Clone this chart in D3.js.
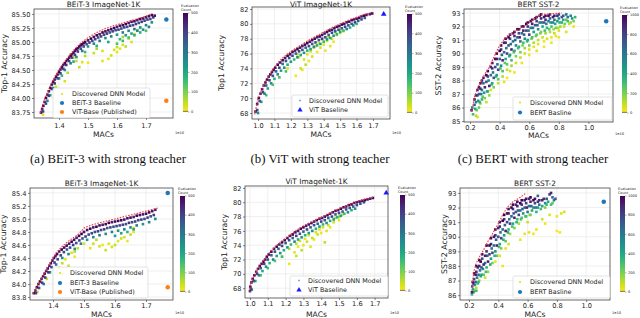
<!DOCTYPE html>
<html><head><meta charset="utf-8">
<script src="https://cdn.jsdelivr.net/npm/d3@7"></script>
<style>body{margin:0;background:#fff}svg{display:block}</style>
</head><body>
<script>
// ---------------- DATA ----------------
const captions = ["(a) BEiT-3 with strong teacher","(b) ViT with strong teacher","(c) BERT with strong teacher"];
const titles = ["BEiT-3 ImageNet-1K","ViT ImageNet-1K","BERT SST-2"];
const yLabels = ["Top-1 Accuracy","Top1 Accuracy","SST-2 Accuracy"];
const legendA = ["Discovered DNN Model","BEiT-3 Baseline","ViT-Base (Published)"];
const legendB = ["Discovered DNN Model","ViT Baseline"];
const legendC = ["Discovered DNN Model","BERT Basline"];
const cbTicks500 = [0,100,200,300,400,500];
const cbTicks1000 = [0,200,400,600,800,1000];
const xTicksBeit = [1.4,1.5,1.6,1.7];
const xTicksVit = [1.0,1.1,1.2,1.3,1.4,1.5,1.6,1.7];
const xTicksBert = [0.2,0.4,0.6,0.8,1.0];
const yTicksBeitTop = [83.75,84.0,84.25,84.5,84.75,85.0,85.25,85.5];
const yTicksBeitBot = [83.8,84.0,84.2,84.4,84.6,84.8,85.0,85.2,85.4];
const yTicksVit = [68,70,72,74,76,78,80,82];
const yTicksBertTop = [85,86,87,88,89,90,91,92,93];
const yTicksBertBot = [86,87,88,89,90,91,92,93];

// baselines [MACs(1e10), accuracy]
const beitBaseTop = [1.77,85.4], vitPubTop = [1.77,83.95];
const beitBaseBot = [1.77,85.4], vitPubBot = [1.77,83.95];
const vitBaseTop = [1.765,81.3], vitBaseBot = [1.765,81.3];
const bertBaseTop = [1.12,92.4], bertBaseBot = [1.12,92.4];

// Pareto frontiers
const beitFrontTop = [[1.335,83.72],[1.35,83.98],[1.37,84.22],[1.39,84.42],[1.41,84.58],[1.43,84.72],[1.45,84.85],[1.47,84.96],[1.5,85.08],[1.53,85.17],[1.56,85.24],[1.6,85.31],[1.64,85.37],[1.68,85.43],[1.72,85.5]];
const vitFrontTop = [[0.98,67.8],[0.99,68.9],[1.0,69.9],[1.02,71.0],[1.04,72.0],[1.06,72.8],[1.08,73.5],[1.1,74.2],[1.13,75.0],[1.16,75.6],[1.2,76.3],[1.25,77.0],[1.3,77.7],[1.35,78.3],[1.4,78.9],[1.45,79.5],[1.5,80.0],[1.55,80.5],[1.6,80.9],[1.65,81.3],[1.7,81.55]];
const bertFrontTop = [[0.21,85.7],[0.22,86.2],[0.23,86.8],[0.25,87.4],[0.27,87.9],[0.3,88.5],[0.33,89.0],[0.36,89.7],[0.39,90.4],[0.42,90.9],[0.45,91.3],[0.5,91.6],[0.55,91.9],[0.6,92.3],[0.65,92.7],[0.68,92.9],[0.75,92.95],[0.82,93.0]];
const beitFrontBot = [[1.335,83.85],[1.35,83.98],[1.37,84.15],[1.39,84.32],[1.41,84.48],[1.43,84.58],[1.45,84.66],[1.48,84.76],[1.5,84.86],[1.52,84.9],[1.55,84.94],[1.6,85.0],[1.65,85.06],[1.7,85.12],[1.74,85.17]];
const vitFrontBot = [[1.0,67.5],[1.0,68.3],[1.01,69.0],[1.03,70.0],[1.05,71.0],[1.08,72.0],[1.11,73.0],[1.15,74.0],[1.2,75.0],[1.25,75.9],[1.3,76.7],[1.35,77.3],[1.4,77.9],[1.45,78.5],[1.5,79.1],[1.55,79.6],[1.6,80.1],[1.65,80.5],[1.69,80.7]];
const bertFrontBot = [[0.22,86.3],[0.225,87.0],[0.235,87.7],[0.25,88.2],[0.27,88.6],[0.3,89.1],[0.33,89.7],[0.36,90.2],[0.4,90.9],[0.43,91.5],[0.46,92.0],[0.5,92.4],[0.55,92.7],[0.59,93.0]];

// discovered models [MACs, accuracy, evaluation count]
const beitPtsTop = [
[1.338,83.74,480],[1.342,83.8,460],[1.346,83.86,490],[1.35,83.93,470],[1.355,84.0,500],[1.36,84.06,450],[1.365,84.12,480],[1.37,84.18,490],[1.375,84.24,470],[1.38,84.29,500],[1.385,84.33,460],[1.39,84.38,490],[1.395,84.42,480],[1.40,84.47,500],[1.405,84.51,470],[1.41,84.55,490],[1.415,84.59,460],[1.42,84.62,500],[1.425,84.66,480],[1.43,84.69,490],[1.435,84.72,470],[1.44,84.75,500],[1.445,84.78,460],[1.45,84.81,490],[1.455,84.84,480],[1.46,84.87,500],[1.465,84.89,470],[1.47,84.92,490],[1.475,84.94,460],[1.48,84.96,500],[1.485,84.98,480],[1.49,85.0,490],[1.50,85.03,470],[1.51,85.06,500],[1.52,85.09,480],[1.53,85.12,490],[1.54,85.14,460],[1.55,85.17,500],[1.56,85.19,480],[1.57,85.21,470],[1.58,85.23,490],[1.59,85.25,500],[1.60,85.27,460],[1.61,85.29,480],[1.62,85.3,490],[1.63,85.32,500],[1.64,85.34,470],[1.65,85.36,480],[1.66,85.37,490],[1.67,85.39,460],[1.68,85.41,500],[1.69,85.42,480],[1.70,85.44,470],[1.71,85.46,490],[1.72,85.48,500],[1.73,85.47,480],
[1.345,83.76,400],[1.355,83.9,380],[1.365,84.04,410],[1.375,84.16,390],[1.385,84.26,420],[1.395,84.35,370],[1.405,84.44,400],[1.415,84.52,380],[1.425,84.59,410],[1.435,84.66,390],[1.445,84.72,360],[1.455,84.77,400],[1.465,84.83,420],[1.475,84.88,380],[1.485,84.92,400],[1.495,84.96,370],[1.505,84.99,410],[1.515,85.02,390],[1.525,85.05,400],[1.535,85.08,380],[1.545,85.1,410],[1.555,85.13,390],[1.565,85.15,420],[1.575,85.17,370],[1.585,85.19,400],[1.595,85.21,380],[1.605,85.22,410],[1.615,85.24,390],[1.625,85.26,400],[1.635,85.27,370],[1.645,85.29,420],[1.655,85.3,390],[1.665,85.32,400],[1.675,85.34,380],[1.685,85.36,410],[1.695,85.38,390],[1.705,85.4,400],[1.715,85.41,370],[1.725,85.44,420],
[1.36,83.95,280],[1.38,84.18,260],[1.40,84.35,300],[1.42,84.5,240],[1.44,84.62,280],[1.46,84.73,250],[1.48,84.84,290],[1.50,84.92,230],[1.52,84.97,270],[1.54,85.02,300],[1.56,85.07,250],[1.58,85.1,280],[1.60,85.13,240],[1.62,85.17,290],[1.64,85.2,260],[1.66,85.23,300],[1.68,85.26,240],[1.70,85.3,280],[1.72,85.35,260],[1.63,85.12,230],[1.65,85.15,210],[1.67,85.2,270],[1.69,85.22,250],[1.71,85.27,290],
[1.37,84.05,180],[1.41,84.4,170],[1.45,84.65,190],[1.49,84.82,160],[1.53,84.93,180],[1.57,85.0,200],[1.61,85.05,170],[1.64,85.08,150],[1.66,85.12,180],[1.68,85.17,190],[1.62,85.02,160],[1.70,85.2,140],[1.6,84.97,150],
[1.345,83.7,20],[1.39,84.2,40],[1.42,84.3,30],[1.44,84.78,50],[1.45,84.72,20],[1.46,84.66,40],[1.48,84.64,30],[1.5,84.63,10],[1.47,84.55,50],[1.43,84.45,60],[1.52,84.8,40],[1.55,84.84,30],[1.55,84.66,20],[1.57,84.7,10],[1.58,84.76,40],[1.59,84.86,30],[1.6,84.91,50],[1.61,84.88,20],[1.62,84.95,30],[1.63,84.92,60],[1.64,85.06,40],[1.62,85.09,70],[1.66,85.14,50],[1.67,85.21,60],[1.68,85.25,40],[1.6,84.82,20],[1.65,85.0,30],[1.53,84.88,70],[1.49,84.75,60]];

const vitPtsTop = [
[0.985,68.2,480],[0.995,69.2,460],[1.005,70.0,490],[1.015,70.6,470],[1.025,71.2,500],[1.035,71.7,450],[1.045,72.1,480],[1.055,72.5,490],[1.065,72.9,470],[1.075,73.2,500],[1.085,73.5,460],[1.095,73.8,490],[1.105,74.1,480],[1.12,74.5,500],[1.135,74.8,470],[1.15,75.1,490],[1.165,75.4,460],[1.18,75.7,500],[1.195,75.9,480],[1.21,76.2,490],[1.225,76.4,470],[1.24,76.6,500],[1.255,76.8,480],[1.27,77.0,460],[1.285,77.2,490],[1.3,77.4,500],[1.315,77.6,470],[1.33,77.8,480],[1.345,78.0,490],[1.36,78.2,460],[1.375,78.3,500],[1.39,78.5,480],[1.405,78.7,470],[1.42,78.9,490],[1.435,79.1,500],[1.45,79.2,460],[1.465,79.4,480],[1.48,79.6,490],[1.495,79.7,470],[1.51,79.9,500],[1.525,80.0,480],[1.54,80.2,460],[1.555,80.3,490],[1.57,80.5,500],[1.585,80.6,470],[1.60,80.7,480],[1.615,80.8,490],[1.63,81.0,460],[1.645,81.1,500],[1.66,81.2,480],[1.68,81.3,470],[1.695,81.4,490],
[0.995,68.4,380],[1.01,69.6,360],[1.03,70.8,400],[1.05,71.7,340],[1.07,72.4,390],[1.09,73.0,370],[1.11,73.6,350],[1.13,74.1,400],[1.15,74.6,330],[1.17,75.0,380],[1.19,75.4,360],[1.21,75.7,390],[1.23,76.0,340],[1.25,76.3,400],[1.27,76.5,370],[1.29,76.8,350],[1.31,77.0,390],[1.33,77.3,360],[1.35,77.5,380],[1.37,77.8,340],[1.39,78.0,400],[1.41,78.2,370],[1.43,78.5,350],[1.45,78.8,390],[1.47,79.0,360],[1.49,79.2,380],[1.51,79.4,340],[1.53,79.6,400],[1.55,79.8,370],[1.57,80.0,350],[1.59,80.2,390],[1.61,80.4,360],[1.63,80.6,380],[1.65,80.8,340],
[1.0,68.0,250],[1.02,69.5,220],[1.04,70.6,260],[1.06,71.3,200],[1.08,72.0,240],[1.1,72.6,180],[1.12,73.2,270],[1.14,73.7,210],[1.16,74.1,250],[1.18,74.5,190],[1.2,74.9,230],[1.22,75.2,170],[1.24,75.5,260],[1.26,75.8,200],[1.28,76.1,240],[1.3,76.4,180],[1.32,76.6,220],[1.34,76.9,260],[1.36,77.1,190],[1.38,77.3,230],[1.4,77.6,170],[1.42,77.9,250],[1.44,78.1,200],[1.46,78.4,240],[1.48,78.6,180],[1.5,78.9,220],[1.52,79.1,160],[1.54,79.3,260],[1.56,79.5,190],[1.58,79.8,230],[1.6,80.0,170],[1.05,70.4,150],[1.09,71.8,140],[1.13,72.8,160],[1.17,73.6,150],
[1.23,73.0,10],[1.18,74.0,30],[1.25,75.5,20],[1.26,74.0,40],[1.27,73.8,10],[1.28,75.2,30],[1.29,74.5,50],[1.3,75.9,20],[1.31,75.0,10],[1.32,76.3,40],[1.33,75.6,30],[1.34,76.8,20],[1.35,77.0,50],[1.36,76.2,10],[1.37,77.4,30],[1.38,76.8,40],[1.4,77.2,20],[1.41,76.4,10],[1.42,77.7,30],[1.43,78.2,50],[1.44,77.0,20],[1.45,78.0,40],[1.46,77.6,10],[1.48,78.5,30],[1.5,78.8,20],[1.5,79.2,60],[1.52,79.0,40],[1.47,78.9,70],[1.39,77.9,60],[1.24,75.9,50]];

const bertPtsTop = [
[0.21,85.8,900],[0.215,86.0,600],[0.22,85.5,300],
[0.23,86.6,950],[0.23,86.2,700],[0.235,85.9,400],[0.24,85.4,100],
[0.25,87.3,900],[0.25,86.9,800],[0.255,86.5,500],[0.26,86.0,250],[0.25,85.3,50],
[0.27,87.8,1000],[0.27,87.4,850],[0.275,87.0,600],[0.28,86.6,350],[0.27,86.3,150],
[0.29,88.2,950],[0.29,87.8,700],[0.3,87.5,900],[0.295,87.1,450],[0.3,86.7,200],[0.31,86.4,80],
[0.32,88.7,1000],[0.32,88.3,800],[0.325,88.0,550],[0.33,87.6,900],[0.32,87.2,300],[0.33,86.9,150],
[0.35,89.3,950],[0.35,88.9,850],[0.355,88.6,600],[0.36,88.2,750],[0.35,87.8,400],[0.36,87.5,200],[0.34,87.3,60],
[0.38,90.0,1000],[0.38,89.6,900],[0.385,89.2,650],[0.39,88.8,800],[0.38,88.4,450],[0.39,88.1,250],[0.39,87.8,100],
[0.41,90.6,950],[0.41,90.3,850],[0.415,89.9,700],[0.42,89.5,900],[0.41,89.1,500],[0.42,88.7,300],[0.42,88.3,120],[0.43,87.9,40],
[0.44,91.1,1000],[0.44,90.8,900],[0.445,90.4,600],[0.45,90.0,800],[0.44,89.6,400],[0.45,89.2,250],[0.45,88.8,100],
[0.47,91.4,950],[0.47,91.1,800],[0.475,90.7,650],[0.48,90.3,900],[0.47,89.9,450],[0.48,89.5,300],[0.48,89.1,150],[0.47,88.7,50],
[0.5,91.6,1000],[0.5,91.3,850],[0.505,91.0,700],[0.51,90.6,550],[0.5,90.2,400],[0.51,89.8,200],[0.51,89.3,80],
[0.53,91.8,950],[0.53,91.5,800],[0.535,91.2,900],[0.54,90.9,600],[0.53,90.5,350],[0.54,90.1,200],[0.54,89.7,100],
[0.56,92.0,1000],[0.56,91.7,900],[0.565,91.4,700],[0.57,91.1,500],[0.56,90.8,300],[0.57,90.4,150],[0.57,90.0,60],
[0.59,92.3,950],[0.59,92.0,850],[0.595,91.7,600],[0.6,91.4,800],[0.59,91.0,400],[0.6,90.6,200],[0.6,90.3,50],
[0.62,92.5,1000],[0.62,92.2,900],[0.625,91.9,650],[0.63,91.6,450],[0.62,91.2,300],[0.63,90.8,120],[0.63,90.5,30],
[0.65,92.7,950],[0.65,92.4,800],[0.655,92.1,700],[0.66,91.8,500],[0.65,91.4,250],[0.66,91.0,100],[0.66,90.7,40],
[0.68,92.9,1000],[0.68,92.6,900],[0.685,92.3,600],[0.69,92.0,400],[0.68,91.6,200],[0.69,91.2,80],[0.7,90.9,20],
[0.71,92.8,950],[0.71,92.5,850],[0.715,92.2,550],[0.72,91.9,350],[0.71,91.5,150],[0.72,91.1,50],
[0.74,92.9,900],[0.74,92.6,700],[0.745,92.3,500],[0.75,92.0,300],[0.74,91.6,120],[0.75,91.2,40],
[0.77,92.8,950],[0.77,92.5,600],[0.775,92.2,400],[0.78,91.9,200],[0.77,91.5,90],[0.78,91.3,30],
[0.8,92.9,800],[0.8,92.6,500],[0.805,92.3,350],[0.81,92.0,150],[0.8,91.7,60],
[0.83,92.8,700],[0.83,92.5,400],[0.84,92.2,200],[0.835,92.0,80],
[0.86,92.7,600],[0.86,92.4,300],[0.87,92.2,100],
[0.89,92.6,500],[0.9,92.4,200],[0.91,92.7,350],
[0.24,86.9,850],[0.24,86.4,550],[0.245,85.8,200],[0.26,87.5,950],[0.26,87.0,700],[0.265,86.4,350],
[0.28,88.0,900],[0.28,87.3,600],[0.285,86.8,250],[0.31,88.4,1000],[0.31,87.9,750],[0.315,87.2,400],
[0.34,89.0,900],[0.34,88.4,650],[0.345,87.7,300],[0.37,89.6,950],[0.37,89.0,800],[0.375,88.3,350],
[0.40,90.2,1000],[0.40,89.6,700],[0.405,88.9,300],[0.43,90.8,900],[0.43,90.1,650],[0.435,89.3,250],
[0.46,91.2,1000],[0.46,90.6,750],[0.465,89.8,350],[0.49,91.5,950],[0.49,90.9,600],[0.495,90.1,250],
[0.52,91.8,1000],[0.52,91.2,700],[0.525,90.4,300],[0.55,92.0,900],[0.55,91.5,650],[0.555,90.6,200],
[0.58,92.2,1000],[0.58,91.7,750],[0.585,90.9,300],[0.61,92.4,950],[0.61,91.9,600],[0.615,91.1,200],
[0.64,92.6,1000],[0.64,92.1,700],[0.645,91.3,250],[0.67,92.8,900],[0.67,92.3,650],[0.675,91.5,200],
[0.70,92.7,950],[0.70,92.3,700],[0.705,91.7,300],[0.73,92.8,1000],[0.73,92.4,600],[0.735,91.8,250],
[0.76,92.7,900],[0.76,92.3,550],[0.765,91.8,150],[0.79,92.8,850],[0.79,92.4,450],[0.795,91.9,120],
[0.82,92.7,750],[0.82,92.3,350],[0.85,92.9,650],[0.85,92.5,250],[0.88,92.8,550],[0.88,92.3,150],
[0.55,89.3,30],[0.6,89.9,20],[0.65,90.2,40],[0.7,90.5,10],[0.75,90.8,30],[0.8,91.2,20],[0.85,91.6,50],[0.9,92.0,30],[0.5,88.6,20],[0.45,88.2,10]];

const beitPtsBot = [
[1.338,83.86,480],[1.343,83.9,460],[1.348,83.95,490],[1.353,84.0,470],[1.358,84.04,500],[1.363,84.08,450],[1.368,84.12,480],[1.373,84.16,490],[1.378,84.2,470],[1.383,84.24,500],[1.388,84.28,460],[1.393,84.32,490],[1.398,84.36,480],[1.403,84.4,500],[1.408,84.43,470],[1.413,84.46,490],[1.42,84.5,460],[1.428,84.53,500],[1.436,84.56,480],[1.444,84.59,490],[1.452,84.62,470],[1.46,84.65,500],[1.468,84.68,480],[1.476,84.71,460],[1.484,84.74,490],[1.492,84.77,500],[1.5,84.8,470],[1.51,84.83,480],[1.52,84.85,490],[1.53,84.87,460],[1.54,84.88,500],[1.55,84.9,480],[1.56,84.91,470],[1.57,84.92,490],[1.58,84.94,500],[1.59,84.95,460],[1.60,84.96,480],[1.61,84.97,490],[1.62,84.98,500],[1.63,84.99,470],[1.64,85.01,480],[1.65,85.02,490],[1.66,85.03,460],[1.67,85.05,500],[1.68,85.06,480],[1.69,85.07,470],[1.70,85.08,490],[1.71,85.1,500],[1.72,85.12,480],[1.73,85.14,460],
[1.345,83.86,400],[1.355,83.94,380],[1.365,84.02,410],[1.375,84.1,390],[1.385,84.18,420],[1.395,84.26,370],[1.405,84.33,400],[1.415,84.38,380],[1.425,84.44,410],[1.435,84.49,390],[1.445,84.53,360],[1.455,84.56,400],[1.465,84.6,420],[1.475,84.63,380],[1.485,84.67,400],[1.495,84.7,370],[1.505,84.73,410],[1.515,84.76,390],[1.525,84.78,400],[1.535,84.8,380],[1.545,84.81,410],[1.555,84.83,390],[1.565,84.84,420],[1.575,84.86,370],[1.585,84.87,400],[1.595,84.88,380],[1.605,84.89,410],[1.615,84.9,390],[1.625,84.91,400],[1.635,84.92,370],[1.645,84.94,420],[1.655,84.95,390],[1.665,84.96,400],[1.675,84.98,380],[1.685,84.99,410],[1.695,85.0,390],[1.705,85.02,400],[1.715,85.04,370],[1.725,85.06,420],
[1.37,84.0,280],[1.39,84.18,260],[1.41,84.3,300],[1.43,84.4,240],[1.45,84.46,280],[1.47,84.54,250],[1.49,84.62,290],[1.51,84.68,230],[1.53,84.72,270],[1.55,84.75,300],[1.57,84.77,250],[1.59,84.8,280],[1.61,84.82,240],[1.63,84.84,290],[1.65,84.87,260],[1.67,84.9,300],[1.69,84.92,240],[1.71,84.95,280],[1.73,85.0,260],[1.6,84.74,220],[1.62,84.78,200],[1.64,84.8,180],[1.66,84.84,210],
[1.35,83.88,30],[1.38,84.08,40],[1.42,84.25,30],[1.43,84.32,50],[1.44,84.38,20],[1.45,84.28,40],[1.46,84.48,30],[1.47,84.42,10],[1.48,84.55,50],[1.5,84.62,30],[1.52,84.55,20],[1.53,84.62,40],[1.55,84.58,30],[1.56,84.6,10],[1.57,84.52,40],[1.58,84.62,20],[1.59,84.57,30],[1.6,84.6,50],[1.61,84.66,20],[1.62,84.7,40],[1.63,84.72,30],[1.64,84.66,10],[1.65,84.76,50],[1.66,84.86,30],[1.66,84.8,20],[1.47,84.5,60],[1.43,84.15,20],[1.54,84.68,60]];

const vitPtsBot = [
[1.0,67.6,480],[1.002,68.2,460],[1.008,68.8,490],[1.015,69.3,470],[1.025,69.8,500],[1.035,70.3,450],[1.045,70.7,480],[1.055,71.1,490],[1.065,71.4,470],[1.075,71.7,500],[1.085,72.0,460],[1.095,72.4,490],[1.105,72.7,480],[1.12,73.1,500],[1.135,73.5,470],[1.15,73.8,490],[1.165,74.1,460],[1.18,74.4,500],[1.195,74.7,480],[1.21,75.0,490],[1.225,75.3,470],[1.24,75.5,500],[1.255,75.8,480],[1.27,76.0,460],[1.285,76.3,490],[1.3,76.5,500],[1.315,76.7,470],[1.33,76.9,480],[1.345,77.1,490],[1.36,77.3,460],[1.375,77.5,500],[1.39,77.7,480],[1.405,77.8,470],[1.42,78.0,490],[1.435,78.2,500],[1.45,78.4,460],[1.465,78.6,480],[1.48,78.8,490],[1.495,78.9,470],[1.51,79.1,500],[1.525,79.3,480],[1.54,79.4,460],[1.555,79.6,490],[1.57,79.7,500],[1.585,79.9,470],[1.6,80.0,480],[1.615,80.1,490],[1.63,80.2,460],[1.645,80.3,500],[1.66,80.4,480],[1.675,80.5,470],[1.69,80.6,490],
[1.005,67.9,380],[1.02,69.0,360],[1.04,70.0,400],[1.06,70.8,340],[1.08,71.4,390],[1.1,72.0,370],[1.12,72.6,350],[1.14,73.1,400],[1.16,73.5,330],[1.18,73.9,380],[1.2,74.3,360],[1.22,74.7,390],[1.24,75.0,340],[1.26,75.3,400],[1.28,75.6,370],[1.3,75.9,350],[1.32,76.2,390],[1.34,76.5,360],[1.36,76.8,380],[1.38,77.0,340],[1.4,77.3,400],[1.42,77.5,370],[1.44,77.8,350],[1.46,78.0,390],[1.48,78.3,360],[1.5,78.5,380],[1.52,78.7,340],[1.54,79.0,400],[1.56,79.2,370],[1.58,79.4,350],[1.6,79.6,390],[1.62,79.8,360],[1.64,80.0,380],
[1.01,67.8,250],[1.03,69.0,220],[1.05,69.8,260],[1.07,70.4,200],[1.09,71.0,240],[1.11,71.5,180],[1.13,72.0,270],[1.15,72.5,210],[1.17,72.9,250],[1.19,73.3,190],[1.21,73.7,230],[1.23,74.1,170],[1.25,74.5,260],[1.27,74.8,200],[1.29,75.1,240],[1.31,75.4,180],[1.33,75.7,220],[1.35,76.0,260],[1.37,76.3,190],[1.39,76.6,230],[1.41,76.9,170],[1.43,77.1,250],[1.45,77.4,200],[1.47,77.6,240],[1.49,77.9,180],[1.51,78.1,220],[1.53,78.4,160],[1.55,78.6,260],[1.57,78.9,190],[1.59,79.1,230],[1.06,69.8,140],[1.1,70.8,150],[1.14,71.8,130],[1.18,72.4,160],
[1.22,71.4,10],[1.18,72.4,30],[1.25,73.0,20],[1.26,72.5,40],[1.27,73.8,10],[1.28,74.6,30],[1.29,73.3,50],[1.3,74.0,20],[1.31,74.9,10],[1.32,74.5,40],[1.33,75.4,30],[1.34,73.8,20],[1.35,75.0,50],[1.36,74.8,10],[1.37,75.8,30],[1.38,75.5,40],[1.39,76.2,20],[1.4,75.7,10],[1.41,76.5,30],[1.42,74.4,50],[1.43,76.0,20],[1.44,76.8,40],[1.45,76.5,10],[1.47,77.2,30],[1.5,77.5,20],[1.5,78.0,60],[1.52,78.3,40],[1.48,77.8,70],[1.26,74.2,50],[1.22,73.5,60]];

const bertPtsBot = [
[0.22,86.2,900],[0.222,86.6,700],[0.225,86.9,950],[0.228,86.4,400],[0.22,86.05,300],
[0.235,87.5,1000],[0.235,87.1,800],[0.24,86.7,500],[0.24,86.3,200],
[0.25,88.0,950],[0.25,87.6,850],[0.255,87.2,600],[0.26,86.8,300],[0.25,86.5,100],
[0.27,88.4,1000],[0.27,88.0,900],[0.275,87.7,650],[0.28,87.3,400],[0.27,87.0,150],
[0.29,88.8,950],[0.29,88.5,800],[0.3,88.1,900],[0.295,87.8,550],[0.3,87.4,250],[0.31,87.2,80],
[0.32,89.4,1000],[0.32,89.0,850],[0.325,88.7,700],[0.33,88.3,900],[0.32,87.9,350],[0.33,87.6,150],
[0.35,89.9,950],[0.35,89.5,900],[0.355,89.2,600],[0.36,88.9,800],[0.35,88.5,450],[0.36,88.2,200],
[0.38,90.5,1000],[0.38,90.1,850],[0.385,89.8,700],[0.39,89.4,900],[0.38,89.0,500],[0.39,88.7,250],[0.38,88.3,30],
[0.41,91.0,950],[0.41,90.7,900],[0.415,90.3,650],[0.42,89.9,800],[0.41,89.5,400],[0.42,89.2,200],[0.41,88.7,50],
[0.44,91.5,1000],[0.44,91.2,850],[0.445,90.8,700],[0.45,90.4,900],[0.44,90.1,450],[0.45,89.7,250],[0.43,88.0,20],
[0.47,91.9,950],[0.47,91.6,900],[0.475,91.2,600],[0.48,90.9,800],[0.47,90.5,350],[0.48,90.2,150],[0.45,89.2,40],[0.47,89.5,60],
[0.5,92.2,1000],[0.5,91.9,850],[0.505,91.6,700],[0.51,91.3,900],[0.5,90.9,400],[0.51,90.6,200],
[0.53,92.4,950],[0.53,92.1,900],[0.535,91.8,650],[0.54,91.5,800],[0.53,91.2,300],[0.54,90.9,120],
[0.56,92.5,1000],[0.56,92.2,850],[0.565,91.9,700],[0.57,91.6,500],[0.56,91.3,250],[0.55,89.8,30],[0.58,90.2,20],
[0.59,92.6,950],[0.59,92.3,800],[0.595,92.0,900],[0.6,91.7,600],[0.59,91.4,300],[0.6,91.0,80],[0.61,90.3,40],
[0.62,92.7,1000],[0.62,92.4,900],[0.625,92.1,700],[0.63,91.8,400],[0.62,91.5,200],[0.64,90.2,20],
[0.65,92.6,950],[0.65,92.3,800],[0.655,92.0,600],[0.66,91.7,350],[0.66,90.5,30],[0.67,92.8,700],
[0.68,92.5,900],[0.68,92.2,600],[0.69,91.9,300],[0.7,91.2,60],[0.72,90.9,20],
[0.71,92.6,850],[0.72,92.3,500],[0.72,92.0,200],[0.75,92.9,800],[0.74,92.4,400],
[0.75,91.5,50],[0.76,92.2,300],[0.78,92.5,600],[0.8,91.4,30],[0.82,90.3,20],[0.8,90.4,10],[0.83,91.6,40],[0.85,91.7,60],[0.79,92.6,700],[0.76,93.0,900],
[0.23,86.8,850],[0.23,86.2,500],[0.245,87.4,950],[0.245,86.9,700],[0.25,86.3,300],
[0.26,87.9,900],[0.265,87.4,650],[0.265,86.9,350],[0.28,88.3,1000],[0.285,87.9,750],[0.285,87.4,400],
[0.31,88.7,900],[0.31,88.2,650],[0.315,87.6,300],[0.34,89.4,1000],[0.34,88.8,800],[0.345,88.1,400],
[0.37,90.0,950],[0.37,89.4,700],[0.375,88.7,350],[0.40,90.6,900],[0.40,90.0,750],[0.405,89.3,300],
[0.43,91.1,1000],[0.43,90.5,650],[0.435,89.8,350],[0.46,91.6,950],[0.46,91.0,800],[0.465,90.3,400],
[0.49,92.0,1000],[0.49,91.4,700],[0.495,90.7,300],[0.52,92.2,900],[0.52,91.7,750],[0.525,91.0,350],
[0.55,92.3,1000],[0.55,91.8,650],[0.555,91.2,300],[0.58,92.5,950],[0.58,92.0,700],[0.585,91.4,250],
[0.61,92.6,900],[0.61,92.1,600],[0.615,91.5,200],[0.64,92.5,1000],[0.64,92.0,550],
[0.67,92.4,850],[0.67,92.0,450],[0.70,92.5,900],[0.70,92.1,400],[0.73,92.6,750],[0.73,92.2,300],[0.77,92.7,650],[0.77,92.3,250]];

// ---------------- LAYOUT ----------------
const SANS = "'DejaVu Sans', sans-serif";
const SERIF = "'Liberation Serif', 'Times New Roman', serif";
const svg = d3.select("body").append("svg").attr("width",640).attr("height",318).style("font-family",SANS);
const cmap = t => d3.interpolateViridis(1 - Math.max(0,Math.min(1,t)));
const defs = svg.append("defs");
const grad = defs.append("linearGradient").attr("id","vir").attr("x1",0).attr("y1",1).attr("x2",0).attr("y2",0);
d3.range(0,1.0001,0.05).forEach(t=>grad.append("stop").attr("offset",t).attr("stop-color",cmap(t)));

const C_BLUE="#1f77b4", C_ORANGE="#ff7f0e", C_TRI="#1a1aff", C_YEL="#e6e633", C_LB="#5aa6d6";

function txt(g,x,y,s,size,anchor){
  return g.append("text").attr("x",x).attr("y",y).attr("text-anchor",anchor||"start").style("font-family",SANS).style("font-size",size+"px").attr("fill","#222").text(s);
}

function drawPanel(p){
  const g = svg.append("g");
  const x = d3.scaleLinear().domain(p.xd).range([p.x0,p.x1]);
  const y = d3.scaleLinear().domain(p.yd).range([p.y1,p.y0]);
  g.selectAll(null).data(p.xt).join("line").attr("x1",d=>x(d)).attr("x2",d=>x(d)).attr("y1",p.y0).attr("y2",p.y1).attr("stroke","#e8e8e8").attr("stroke-width",0.7);
  g.selectAll(null).data(p.yt).join("line").attr("y1",d=>y(d)).attr("y2",d=>y(d)).attr("x1",p.x0).attr("x2",p.x1).attr("stroke","#e8e8e8").attr("stroke-width",0.7);
  const ax = g.append("g").attr("transform",`translate(0,${p.y1})`).call(d3.axisBottom(x).tickValues(p.xt).tickFormat(d3.format(p.xf)).tickSize(2).tickPadding(p.xpad));
  const ay = g.append("g").attr("transform",`translate(${p.x0},0)`).call(d3.axisLeft(y).tickValues(p.yt).tickFormat(d3.format(p.yf)).tickSize(2).tickPadding(1.5));
  [ax,ay].forEach(a=>{a.select(".domain").remove();a.selectAll("line").attr("stroke","#333").attr("stroke-width",0.6);a.selectAll("text").attr("fill","#222").style("font-size","6.6px").style("font-family",SANS);});
  const pts = p.pts.slice().sort((a,b)=>a[2]-b[2]);
  g.selectAll(null).data(pts).join("rect").attr("x",d=>x(d[0])-1.3).attr("y",d=>y(d[1])-1.3).attr("width",2.6).attr("height",2.6).attr("fill",d=>cmap(d[2]/p.cmax));
  g.append("path").datum(p.front).attr("d",d3.line().x(d=>x(d[0])).y(d=>y(d[1]))).attr("fill","none").attr("stroke","#ef3b3b").attr("stroke-width",1.1).attr("stroke-dasharray","1.6,1.3");
  p.bases.forEach(b=>{
    g.append("path").attr("d",d3.symbol().type(b.sym).size(b.size)()).attr("transform",`translate(${x(b.v[0])},${y(b.v[1])})`).attr("fill",b.col);
  });
  g.append("rect").attr("x",p.x0).attr("y",p.y0).attr("width",p.x1-p.x0).attr("height",p.y1-p.y0).attr("fill","none").attr("stroke","#444").attr("stroke-width",0.8);
  const xm=(p.x0+p.x1)/2, ym=(p.y0+p.y1)/2;
  txt(g,xm,Math.max(p.y0-2,7),p.title,7.4,"middle");
  txt(g,xm,p.my,"MACs",7.6,"middle");
  g.append("text").attr("transform",`translate(${p.ylx},${ym}) rotate(-90)`).attr("text-anchor","middle").style("font-family",SANS).style("font-size","7.8px").attr("fill","#222").text(p.ylab);
  txt(g,p.x1+2,p.my-3,"1e10",3.6);
  const L=p.leg;
  g.append("rect").attr("x",L.box[0]).attr("y",L.box[1]).attr("width",L.box[2]-L.box[0]).attr("height",L.box[3]-L.box[1]).attr("rx",1.5).attr("fill","#fff").attr("fill-opacity",0.85).attr("stroke","#d0d0d0").attr("stroke-width",0.6);
  L.items.forEach((it,i)=>{
    const yy=L.ys[i];
    g.append("path").attr("d",d3.symbol().type(it.sym).size(it.size)()).attr("transform",`translate(${L.mx},${yy})`).attr("fill",it.col);
    txt(g,L.tx,yy+2.3,it.label,6.4);
  });
  const cb=p.cb;
  const cy = d3.scaleLinear().domain([0,p.cmax]).range([cb.y1,cb.y0]);
  g.append("rect").attr("x",cb.x).attr("y",cb.y0).attr("width",5).attr("height",cb.y1-cb.y0).attr("fill","url(#vir)");
  g.append("rect").attr("x",cb.x).attr("y",cb.y1-1.2).attr("width",5).attr("height",1.2).attr("fill","#8c8a55");
  g.selectAll(null).data(cb.ticks).join("line").attr("x1",cb.x+5).attr("x2",cb.x+6.5).attr("y1",d=>cy(d)).attr("y2",d=>cy(d)).attr("stroke","#333").attr("stroke-width",0.4);
  cb.ticks.forEach(d=>txt(g,cb.x+8,cy(d)+1.2,d,3.6));
  txt(g,cb.x-2,cb.y0-6,"Evaluation",3.4);
  txt(g,cb.x-2,cb.y0-2.5,"Count",3.4);
}

const sym = d3.symbolCircle, tri = d3.symbolTriangle, sq = d3.symbolSquare;
const legItemsA = [{label:legendA[0],sym:sq,size:4,col:C_YEL},{label:legendA[1],sym:sym,size:14,col:C_BLUE},{label:legendA[2],sym:sym,size:14,col:C_ORANGE}];
const legItemsB = [{label:legendB[0],sym:sq,size:3,col:C_LB},{label:legendB[1],sym:tri,size:12,col:C_TRI}];
const legItemsC = [{label:legendC[0],sym:sq,size:4,col:C_YEL},{label:legendC[1],sym:sym,size:14,col:C_BLUE}];

const panels = [
 {title:titles[0],ylab:yLabels[0],ylx:7,x0:34,x1:173,y0:9,y1:118,xd:[1.3138,1.793],yd:[83.643,85.589],xt:xTicksBeit,yt:yTicksBeitTop,xf:".1f",yf:".2f",xpad:3,my:137,
  pts:beitPtsTop,front:beitFrontTop,cmax:500,bases:[{v:beitBaseTop,sym:sym,size:16,col:C_BLUE},{v:vitPubTop,sym:sym,size:16,col:C_ORANGE}],
  leg:{box:[53,88,150,118],ys:[94,103,112],mx:62,tx:72,items:legItemsA},cb:{x:183,y0:13,y1:112,ticks:cbTicks500}},
 {title:titles[1],ylab:yLabels[1],ylx:224,x0:252,x1:390,y0:7,y1:119,xd:[0.9635,1.8034],yd:[67.19,82.27],xt:xTicksVit,yt:yTicksVit,xf:".1f",yf:"d",xpad:2.5,my:137,
  pts:vitPtsTop,front:vitFrontTop,cmax:500,bases:[{v:vitBaseTop,sym:tri,size:14,col:C_TRI}],
  leg:{box:[292,95,388,117],ys:[100.5,110],mx:300,tx:309,items:legItemsB},cb:{x:407,y0:14,y1:113,ticks:cbTicks500}},
 {title:titles[2],ylab:yLabels[2],ylx:441,x0:464,x1:613,y0:9,y1:122,xd:[0.159,1.166],yd:[84.93,93.3],xt:xTicksBert,yt:yTicksBertTop,xf:".1f",yf:"d",xpad:1.5,my:138,
  pts:bertPtsTop,front:bertFrontTop,cmax:1000,bases:[{v:bertBaseTop,sym:sym,size:16,col:C_BLUE}],
  leg:{box:[513,97,612,120],ys:[102.5,112.5],mx:520,tx:530,items:legItemsC},cb:{x:622,y0:15,y1:113,ticks:cbTicks1000}},
 {title:titles[0],ylab:yLabels[0],ylx:6,x0:30,x1:173,y0:188,y1:300,xd:[1.3258,1.787],yd:[83.755,85.475],xt:xTicksBeit,yt:yTicksBeitBot,xf:".1f",yf:".1f",xpad:1.5,my:316.5,
  pts:beitPtsBot,front:beitFrontBot,cmax:500,bases:[{v:beitBaseBot,sym:sym,size:16,col:C_BLUE},{v:vitPubBot,sym:sym,size:16,col:C_ORANGE}],
  leg:{box:[53,267,148,298],ys:[273,283,292],mx:60,tx:70,items:legItemsA},cb:{x:180,y0:196,y1:292,ticks:cbTicks500}},
 {title:titles[1],ylab:yLabels[1],ylx:227,x0:245,x1:388,y0:186,y1:298,xd:[0.972,1.775],yd:[66.63,82.27],xt:xTicksVit,yt:yTicksVit,xf:".1f",yf:"d",xpad:1.5,my:316.5,
  pts:vitPtsBot,front:vitFrontBot,cmax:500,bases:[{v:vitBaseBot,sym:tri,size:14,col:C_TRI}],
  leg:{box:[290,276,388,296],ys:[280.5,290],mx:299,tx:308,items:legItemsB},cb:{x:400,y0:195,y1:291,ticks:cbTicks500}},
 {title:titles[2],ylab:yLabels[2],ylx:447,x0:460,x1:610,y0:188,y1:300,xd:[0.1386,1.1625],yd:[85.67,93.34],xt:xTicksBert,yt:yTicksBertBot,xf:".1f",yf:"d",xpad:1.5,my:316.5,
  pts:bertPtsBot,front:bertFrontBot,cmax:1000,bases:[{v:bertBaseBot,sym:sym,size:16,col:C_BLUE}],
  leg:{box:[513,276,610,298],ys:[282,292],mx:520,tx:530,items:legItemsC},cb:{x:620,y0:196,y1:292,ticks:cbTicks1000}}
];
panels.forEach(drawPanel);

[108,320,533].forEach((cx,i)=>{
  svg.append("text").attr("x",cx).attr("y",163).attr("text-anchor","middle").style("font-family",SERIF).style("font-size","12.8px").attr("fill","#111").text(captions[i]);
});
</script>
</body></html>
